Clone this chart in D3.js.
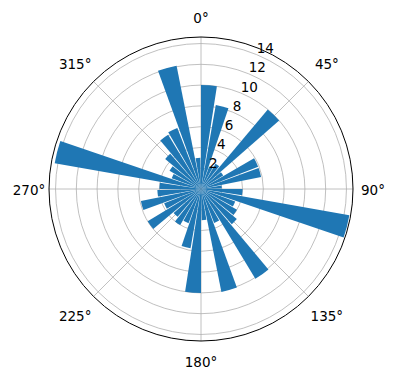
<!DOCTYPE html>
<html>
<head>
<meta charset="utf-8">
<script src="https://cdn.jsdelivr.net/npm/d3@7"></script>
<style>
  body { margin: 0; background: #fff; }
  text { font-family: "DejaVu Sans", sans-serif; }
</style>
</head>
<body>
<div id="chart"></div>
<script>
// bar start angles (degrees, clockwise from north) and radii
const angles = d3.range(0, 360, 10);
const radii = [
  10.0, 8.2, 2.3, 2.8, 10.0, 2.5, 5.9, 5.9, 2.0,
  4.0, 14.5, 3.5, 4.0, 4.5, 10.1, 3.5, 10.1, 3.0,
  10.0, 5.8, 3.5, 4.0, 3.5, 6.0, 3.8, 5.9, 4.2,
  4.0, 14.3, 3.0, 3.5, 4.5, 6.1, 6.3, 12.1, 3.0
];
const rTicks = [2, 4, 6, 8, 10, 12, 14];
const thetaTicks = [0, 45, 90, 135, 180, 225, 270, 315];

const width = 396, height = 380;
const cx = 201, cy = 189, R = 152;
const rMax = 14.63;
const barWidth = 8.8;

const svg = d3.select("#chart")
  .append("svg")
  .attr("width", width)
  .attr("height", height);

const g = svg.append("g")
  .attr("transform", "translate(" + cx + "," + cy + ")");

const r = d3.scaleLinear().domain([0, rMax]).range([0, R]);
const toRad = d => d * Math.PI / 180;

// grid circles
g.selectAll("circle.grid")
  .data(rTicks)
  .join("circle")
  .attr("class", "grid")
  .attr("r", d => r(d))
  .attr("fill", "none")
  .attr("stroke", "#b0b0b0")
  .attr("stroke-width", 0.8);

// spokes
g.selectAll("line.spoke")
  .data(thetaTicks)
  .join("line")
  .attr("class", "spoke")
  .attr("x1", 0).attr("y1", 0)
  .attr("x2", d => R * Math.sin(toRad(d)))
  .attr("y2", d => -R * Math.cos(toRad(d)))
  .attr("stroke", "#b0b0b0")
  .attr("stroke-width", 0.8);

// bars
const arc = d3.arc()
  .innerRadius(0)
  .outerRadius(d => r(d.value))
  .startAngle(d => toRad(d.angle))
  .endAngle(d => toRad(d.angle + barWidth));

g.selectAll("path.bar")
  .data(angles.map((a, i) => ({ angle: a, value: radii[i] })))
  .join("path")
  .attr("class", "bar")
  .attr("d", arc)
  .attr("fill", "#1f77b4");

// outer spine
g.append("circle")
  .attr("r", R)
  .attr("fill", "none")
  .attr("stroke", "#000")
  .attr("stroke-width", 1);

// angle labels
g.selectAll("text.theta")
  .data(thetaTicks)
  .join("text")
  .attr("class", "theta")
  .attr("x", d => (172 + 6 * Math.abs(Math.sin(toRad(2 * d)))) * Math.sin(toRad(d)))
  .attr("y", d => -(172 + 6 * Math.abs(Math.sin(toRad(2 * d)))) * Math.cos(toRad(d)) + 1)
  .attr("text-anchor", "middle")
  .attr("dominant-baseline", "central")
  .style("font-size", "13.5px")
  .text(d => d + "°");

// radial labels at 22.5°
g.selectAll("text.rlab")
  .data(rTicks)
  .join("text")
  .attr("class", "rlab")
  .attr("x", d => r(d) * Math.sin(toRad(22.5)))
  .attr("y", d => -r(d) * Math.cos(toRad(22.5)) - 1.5)
  .style("font-size", "13.5px")
  .text(d => d);
</script>
</body>
</html>
